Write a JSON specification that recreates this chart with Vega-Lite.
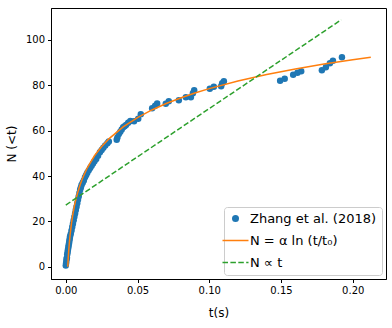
{
  "$schema": "https://vega.github.io/schema/vega-lite/v6.json",
  "width": 335,
  "height": 271,
  "autosize": {"type": "none"},
  "padding": {"left": 51, "top": 8, "right": 6, "bottom": 49},
  "background": "white",
  "config": {
    "font": "DejaVu Sans",
    "view": {"stroke": "black", "strokeWidth": 1},
    "axis": {
      "grid": false,
      "domainColor": "black",
      "tickColor": "black",
      "tickSize": 3.5,
      "labelColor": "black",
      "labelFontSize": 10,
      "labelFont": "DejaVu Sans",
      "titleColor": "black",
      "titleFontSize": 12,
      "titleFontWeight": "normal",
      "titleFont": "DejaVu Sans",
      "labelPadding": 3
    }
  },
  "datasets": {
    "obs": [
      {"t": 0.0000, "N": 0.5, "series": "Zhang et al. (2018)"},
      {"t": 0.0002, "N": 1.5, "series": "Zhang et al. (2018)"},
      {"t": 0.0004, "N": 2.5, "series": "Zhang et al. (2018)"},
      {"t": 0.0006, "N": 3.5, "series": "Zhang et al. (2018)"},
      {"t": 0.0008, "N": 4.0, "series": "Zhang et al. (2018)"},
      {"t": 0.0010, "N": 5.5, "series": "Zhang et al. (2018)"},
      {"t": 0.0013, "N": 6.5, "series": "Zhang et al. (2018)"},
      {"t": 0.0015, "N": 7.5, "series": "Zhang et al. (2018)"},
      {"t": 0.0018, "N": 8.5, "series": "Zhang et al. (2018)"},
      {"t": 0.0020, "N": 9.5, "series": "Zhang et al. (2018)"},
      {"t": 0.0023, "N": 10.5, "series": "Zhang et al. (2018)"},
      {"t": 0.0025, "N": 11.5, "series": "Zhang et al. (2018)"},
      {"t": 0.0028, "N": 12.5, "series": "Zhang et al. (2018)"},
      {"t": 0.0030, "N": 13.5, "series": "Zhang et al. (2018)"},
      {"t": 0.0035, "N": 14.5, "series": "Zhang et al. (2018)"},
      {"t": 0.0040, "N": 16.0, "series": "Zhang et al. (2018)"},
      {"t": 0.0045, "N": 17.5, "series": "Zhang et al. (2018)"},
      {"t": 0.0050, "N": 19.0, "series": "Zhang et al. (2018)"},
      {"t": 0.0055, "N": 20.5, "series": "Zhang et al. (2018)"},
      {"t": 0.0060, "N": 22.0, "series": "Zhang et al. (2018)"},
      {"t": 0.0065, "N": 23.5, "series": "Zhang et al. (2018)"},
      {"t": 0.0070, "N": 25.0, "series": "Zhang et al. (2018)"},
      {"t": 0.0075, "N": 26.5, "series": "Zhang et al. (2018)"},
      {"t": 0.0080, "N": 28.0, "series": "Zhang et al. (2018)"},
      {"t": 0.0085, "N": 29.5, "series": "Zhang et al. (2018)"},
      {"t": 0.0090, "N": 31.0, "series": "Zhang et al. (2018)"},
      {"t": 0.0095, "N": 32.5, "series": "Zhang et al. (2018)"},
      {"t": 0.0100, "N": 34.0, "series": "Zhang et al. (2018)"},
      {"t": 0.0105, "N": 35.0, "series": "Zhang et al. (2018)"},
      {"t": 0.0110, "N": 36.0, "series": "Zhang et al. (2018)"},
      {"t": 0.0118, "N": 37.0, "series": "Zhang et al. (2018)"},
      {"t": 0.0126, "N": 38.0, "series": "Zhang et al. (2018)"},
      {"t": 0.0134, "N": 39.5, "series": "Zhang et al. (2018)"},
      {"t": 0.0142, "N": 40.5, "series": "Zhang et al. (2018)"},
      {"t": 0.0150, "N": 41.5, "series": "Zhang et al. (2018)"},
      {"t": 0.0160, "N": 42.5, "series": "Zhang et al. (2018)"},
      {"t": 0.0170, "N": 43.5, "series": "Zhang et al. (2018)"},
      {"t": 0.0180, "N": 44.5, "series": "Zhang et al. (2018)"},
      {"t": 0.0190, "N": 45.5, "series": "Zhang et al. (2018)"},
      {"t": 0.0200, "N": 46.5, "series": "Zhang et al. (2018)"},
      {"t": 0.0212, "N": 47.5, "series": "Zhang et al. (2018)"},
      {"t": 0.0225, "N": 49.0, "series": "Zhang et al. (2018)"},
      {"t": 0.0238, "N": 50.5, "series": "Zhang et al. (2018)"},
      {"t": 0.0250, "N": 51.5, "series": "Zhang et al. (2018)"},
      {"t": 0.0262, "N": 52.5, "series": "Zhang et al. (2018)"},
      {"t": 0.0275, "N": 53.5, "series": "Zhang et al. (2018)"},
      {"t": 0.0290, "N": 54.5, "series": "Zhang et al. (2018)"},
      {"t": 0.0300, "N": 55.2, "series": "Zhang et al. (2018)"},
      {"t": 0.0355, "N": 56.0, "series": "Zhang et al. (2018)"},
      {"t": 0.0360, "N": 57.0, "series": "Zhang et al. (2018)"},
      {"t": 0.0370, "N": 58.5, "series": "Zhang et al. (2018)"},
      {"t": 0.0380, "N": 59.5, "series": "Zhang et al. (2018)"},
      {"t": 0.0390, "N": 60.5, "series": "Zhang et al. (2018)"},
      {"t": 0.0400, "N": 61.5, "series": "Zhang et al. (2018)"},
      {"t": 0.0410, "N": 62.0, "series": "Zhang et al. (2018)"},
      {"t": 0.0420, "N": 62.5, "series": "Zhang et al. (2018)"},
      {"t": 0.0435, "N": 63.5, "series": "Zhang et al. (2018)"},
      {"t": 0.0450, "N": 64.3, "series": "Zhang et al. (2018)"},
      {"t": 0.0476, "N": 64.2, "series": "Zhang et al. (2018)"},
      {"t": 0.0505, "N": 65.3, "series": "Zhang et al. (2018)"},
      {"t": 0.0523, "N": 67.3, "series": "Zhang et al. (2018)"},
      {"t": 0.0602, "N": 69.9, "series": "Zhang et al. (2018)"},
      {"t": 0.0623, "N": 71.0, "series": "Zhang et al. (2018)"},
      {"t": 0.0637, "N": 72.0, "series": "Zhang et al. (2018)"},
      {"t": 0.0697, "N": 71.9, "series": "Zhang et al. (2018)"},
      {"t": 0.0718, "N": 73.0, "series": "Zhang et al. (2018)"},
      {"t": 0.0788, "N": 73.4, "series": "Zhang et al. (2018)"},
      {"t": 0.0837, "N": 74.7, "series": "Zhang et al. (2018)"},
      {"t": 0.0872, "N": 74.7, "series": "Zhang et al. (2018)"},
      {"t": 0.0886, "N": 76.5, "series": "Zhang et al. (2018)"},
      {"t": 0.0895, "N": 77.8, "series": "Zhang et al. (2018)"},
      {"t": 0.1004, "N": 78.5, "series": "Zhang et al. (2018)"},
      {"t": 0.1032, "N": 79.4, "series": "Zhang et al. (2018)"},
      {"t": 0.1083, "N": 79.6, "series": "Zhang et al. (2018)"},
      {"t": 0.1090, "N": 80.9, "series": "Zhang et al. (2018)"},
      {"t": 0.1102, "N": 81.8, "series": "Zhang et al. (2018)"},
      {"t": 0.1494, "N": 82.0, "series": "Zhang et al. (2018)"},
      {"t": 0.1526, "N": 82.9, "series": "Zhang et al. (2018)"},
      {"t": 0.1585, "N": 84.7, "series": "Zhang et al. (2018)"},
      {"t": 0.1615, "N": 85.5, "series": "Zhang et al. (2018)"},
      {"t": 0.1641, "N": 86.2, "series": "Zhang et al. (2018)"},
      {"t": 0.1785, "N": 86.7, "series": "Zhang et al. (2018)"},
      {"t": 0.1813, "N": 88.0, "series": "Zhang et al. (2018)"},
      {"t": 0.1841, "N": 89.7, "series": "Zhang et al. (2018)"},
      {"t": 0.1862, "N": 90.8, "series": "Zhang et al. (2018)"},
      {"t": 0.1925, "N": 92.4, "series": "Zhang et al. (2018)"}
    ],
    "fit": [
      {"t": 0.0014, "N": 0.0, "series": "N = α ln (t/t₀)"},
      {"t": 0.0016, "N": 2.46, "series": "N = α ln (t/t₀)"},
      {"t": 0.0018, "N": 4.62, "series": "N = α ln (t/t₀)"},
      {"t": 0.0020, "N": 6.56, "series": "N = α ln (t/t₀)"},
      {"t": 0.0025, "N": 10.67, "series": "N = α ln (t/t₀)"},
      {"t": 0.0030, "N": 14.02, "series": "N = α ln (t/t₀)"},
      {"t": 0.0040, "N": 19.32, "series": "N = α ln (t/t₀)"},
      {"t": 0.0050, "N": 23.42, "series": "N = α ln (t/t₀)"},
      {"t": 0.0060, "N": 26.78, "series": "N = α ln (t/t₀)"},
      {"t": 0.0070, "N": 29.61, "series": "N = α ln (t/t₀)"},
      {"t": 0.0080, "N": 32.07, "series": "N = α ln (t/t₀)"},
      {"t": 0.0100, "N": 36.18, "series": "N = α ln (t/t₀)"},
      {"t": 0.0120, "N": 39.53, "series": "N = α ln (t/t₀)"},
      {"t": 0.0150, "N": 43.64, "series": "N = α ln (t/t₀)"},
      {"t": 0.0200, "N": 48.93, "series": "N = α ln (t/t₀)"},
      {"t": 0.0250, "N": 53.04, "series": "N = α ln (t/t₀)"},
      {"t": 0.0300, "N": 56.39, "series": "N = α ln (t/t₀)"},
      {"t": 0.0400, "N": 61.68, "series": "N = α ln (t/t₀)"},
      {"t": 0.0500, "N": 65.79, "series": "N = α ln (t/t₀)"},
      {"t": 0.0600, "N": 69.14, "series": "N = α ln (t/t₀)"},
      {"t": 0.0700, "N": 71.98, "series": "N = α ln (t/t₀)"},
      {"t": 0.0800, "N": 74.44, "series": "N = α ln (t/t₀)"},
      {"t": 0.0900, "N": 76.61, "series": "N = α ln (t/t₀)"},
      {"t": 0.1000, "N": 78.54, "series": "N = α ln (t/t₀)"},
      {"t": 0.1200, "N": 81.90, "series": "N = α ln (t/t₀)"},
      {"t": 0.1400, "N": 84.74, "series": "N = α ln (t/t₀)"},
      {"t": 0.1600, "N": 87.19, "series": "N = α ln (t/t₀)"},
      {"t": 0.1800, "N": 89.36, "series": "N = α ln (t/t₀)"},
      {"t": 0.2000, "N": 91.30, "series": "N = α ln (t/t₀)"},
      {"t": 0.2126, "N": 92.42, "series": "N = α ln (t/t₀)"}
    ],
    "lin": [
      {"t": 0.0, "N": 27.2, "series": "N ∝ t"},
      {"t": 0.192, "N": 108.9, "series": "N ∝ t"}
    ]
  },
  "encoding": {
    "x": {
      "field": "t", "type": "quantitative",
      "scale": {"domain": [-0.0103, 0.2232], "nice": false, "zero": false},
      "axis": {"values": [0, 0.05, 0.1, 0.15, 0.2], "format": ".2f", "title": "t(s)", "titlePadding": 12}
    },
    "y": {
      "field": "N", "type": "quantitative",
      "scale": {"domain": [-5.4, 114.1], "nice": false, "zero": false},
      "axis": {"values": [0, 20, 40, 60, 80, 100], "title": "N (<t)", "titlePadding": 7}
    },
    "color": {
      "field": "series", "type": "nominal",
      "scale": {
        "domain": ["Zhang et al. (2018)", "N = α ln (t/t₀)", "N ∝ t"],
        "range": ["#1f77b4", "#ff7f0e", "#2ca02c"]
      },
      "legend": {
        "title": null,
        "orient": "bottom-right",
        "offset": 4,
        "padding": 5,
        "fillColor": "white",
        "strokeColor": "#cccccc",
        "cornerRadius": 3,
        "labelFontSize": 13,
        "labelFont": "DejaVu Sans",
        "labelColor": "black",
        "labelOffset": 8,
        "symbolSize": 676,
        "rowPadding": 8,
        "encode": {
          "symbols": {
            "update": {
              "shape": {"signal": "datum.value === 'Zhang et al. (2018)' ? 'circle' : 'stroke'"},
              "size": {"signal": "datum.value === 'Zhang et al. (2018)' ? 49 : 676"},
              "strokeDash": {"signal": "datum.value === 'N ∝ t' ? [5.5, 2.4] : [1, 0]"},
              "fill": {"signal": "datum.value === 'Zhang et al. (2018)' ? scale('color', datum.value) : 'transparent'"},
              "stroke": {"signal": "scale('color', datum.value)"},
              "strokeWidth": {"signal": "datum.value === 'Zhang et al. (2018)' ? 0 : 1.5"},
              "opacity": {"value": 1}
            }
          }
        }
      }
    }
  },
  "layer": [
    {
      "data": {"name": "obs"},
      "mark": {"type": "point", "filled": true, "shape": "circle", "size": 42, "opacity": 1}
    },
    {
      "data": {"name": "fit"},
      "mark": {"type": "line", "strokeWidth": 1.5}
    },
    {
      "data": {"name": "lin"},
      "mark": {"type": "line", "strokeWidth": 1.5, "strokeDash": [5.5, 2.4]}
    }
  ]
}
